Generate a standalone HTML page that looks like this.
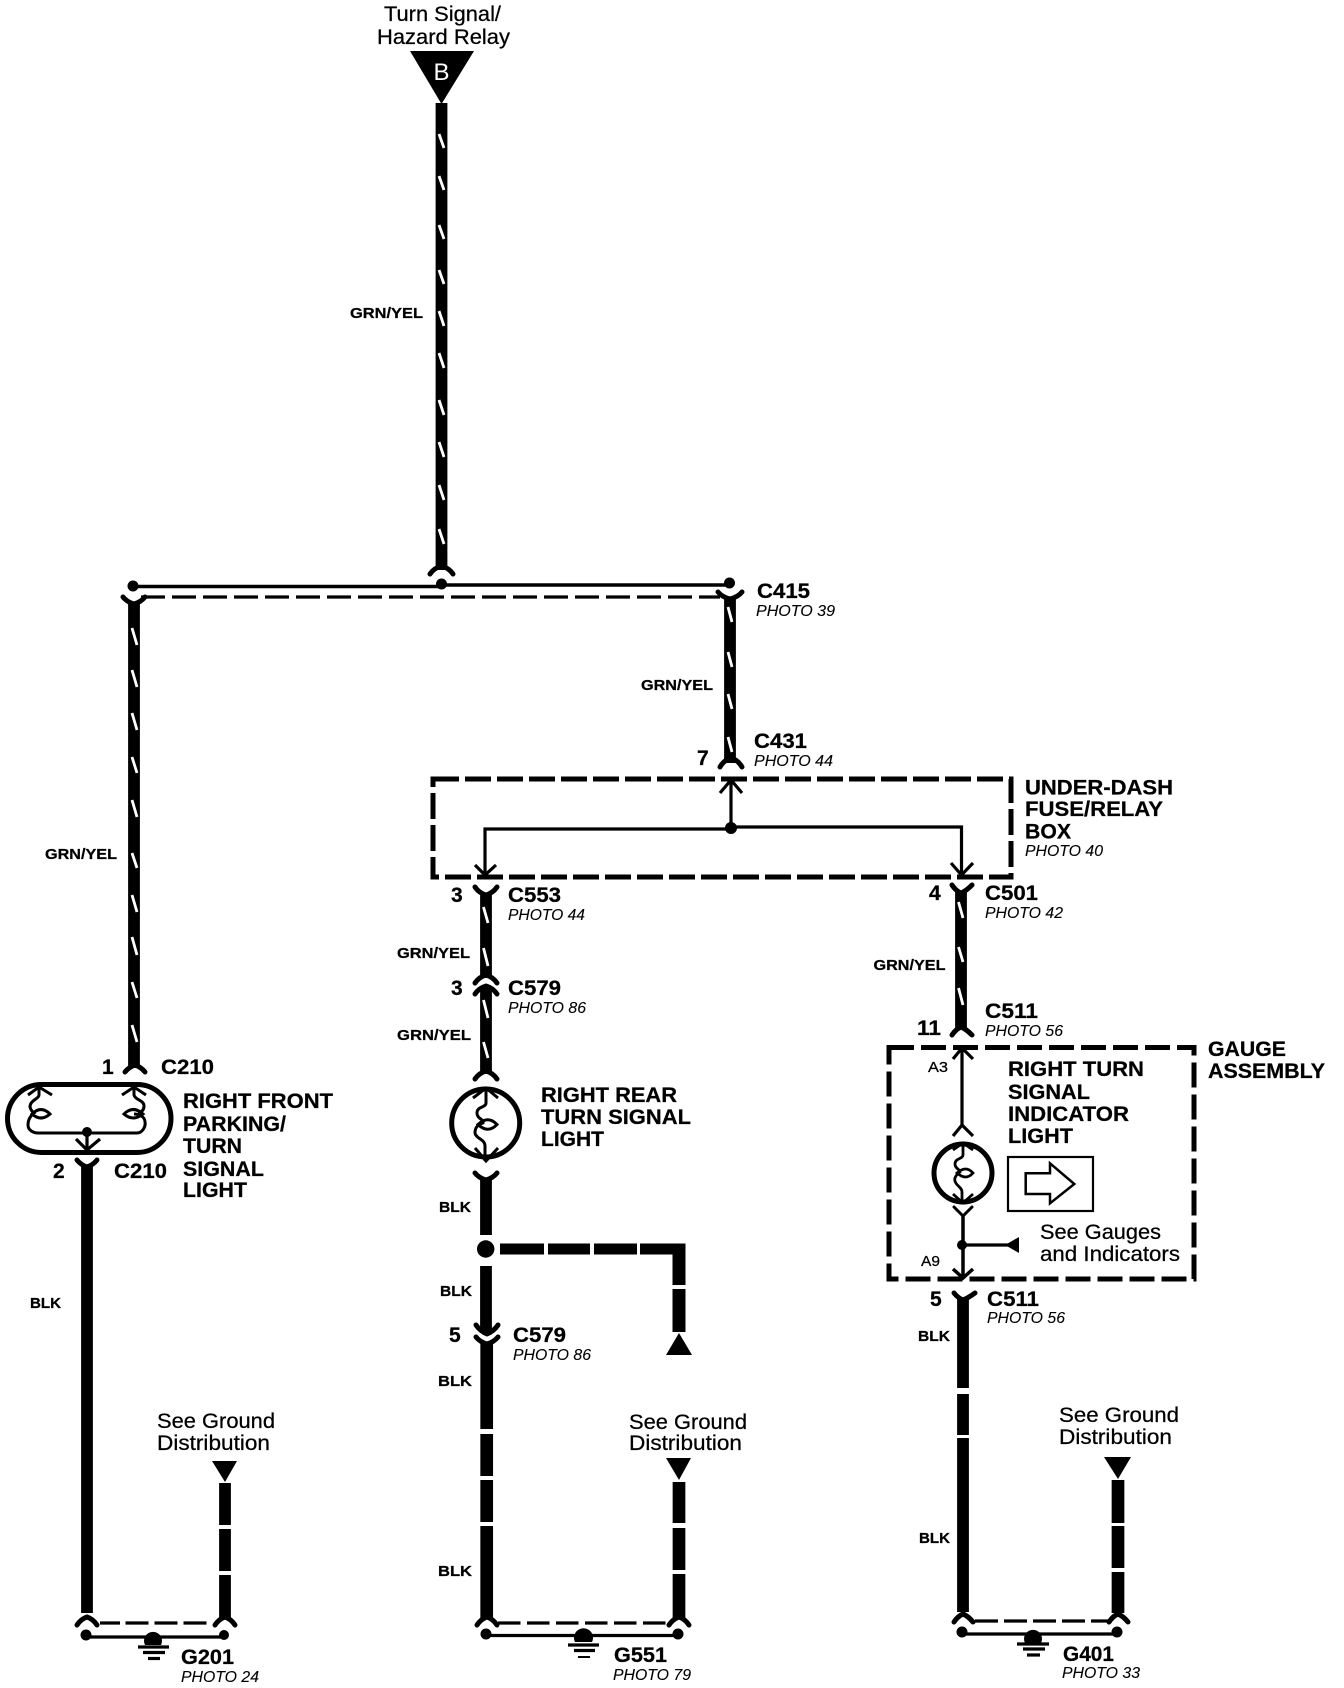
<!DOCTYPE html>
<html><head><meta charset="utf-8"><style>
html,body{margin:0;padding:0;background:#fff}
svg{display:block}
text{font-family:"Liberation Sans",sans-serif;fill:#000;stroke:#000;stroke-width:.25}
.b{font-weight:700;font-size:21px}
.i{font-style:italic;font-size:16px;stroke-width:.1}
.r{font-size:21px}
.s{font-weight:700;font-size:14.5px}
.w{stroke:#000;stroke-width:11.8;fill:none}
.f{stroke:#000;stroke-width:5;fill:none;stroke-linecap:round;stroke-linejoin:round}
.t{stroke:#000;stroke-width:3.2;fill:none;stroke-linecap:butt;stroke-linejoin:miter}
.y{stroke:#fff;stroke-width:2.8;fill:none}
</style></head><body>
<svg xmlns="http://www.w3.org/2000/svg" width="1344" height="1688" viewBox="0 0 1344 1688">
<rect width="1344" height="1688" fill="#fff"/>

<!-- Top source -->
<text x="384" y="21" class="r" textLength="117" lengthAdjust="spacingAndGlyphs">Turn Signal/</text>
<text x="377" y="44" class="r" textLength="133" lengthAdjust="spacingAndGlyphs">Hazard Relay</text>
<polygon points="410,51 474,51 441.5,104"/>
<text x="441.5" y="80" class="r" text-anchor="middle" style="fill:#fff;stroke:none;font-size:24px">B</text>
<path class="w" d="M441.5 103V570"/>
<path class="y" d="M439 134l5 14M439 176l5 14M439 225l5 14M439 270l5 14M439 311l5 15M439 353l5 15M439 400l5 15M439 442l5 15M439 485l5 15M439 529l5 15"/>
<path class="f" d="M430 574Q434 568 441.5 566Q449 568 453 574"/>
<path class="t" style="stroke-width:3.6" d="M133 586.5H441M441 585H729"/>
<circle cx="133" cy="586" r="5.5"/><circle cx="441.5" cy="584" r="5.5"/><circle cx="729.5" cy="583" r="5.5"/>
<path class="t" stroke-dasharray="24 7" d="M141 597H720"/>
<path class="f" d="M123 597Q127 602 134 604Q141 602 145 597"/>
<path class="f" d="M718 592Q722 597 730 599Q738 597 742 592"/>
<path class="w" d="M134 602V1068"/>
<path class="y" d="M132 628l5 17M132 670l5 17M132 713l5 17M132 757l5 16M132 800l5 17M132 853l5 15M132 895l5 17M132 937l5 18M132 982l5 16M132 1025l5 17"/>
<path class="w" d="M730 598V763"/>
<path class="y" d="M728 607l4 15M728 652l4 15M728 694l4 15M728 737l4 15"/>
<text x="757" y="598" class="b" textLength="53" lengthAdjust="spacingAndGlyphs">C415</text>
<text x="756" y="616" class="i" textLength="79" lengthAdjust="spacingAndGlyphs">PHOTO 39</text>
<text x="350" y="318" class="s" textLength="73" lengthAdjust="spacingAndGlyphs">GRN/YEL</text>
<text x="641" y="690" class="s" textLength="72" lengthAdjust="spacingAndGlyphs">GRN/YEL</text>
<text x="45" y="859" class="s" textLength="72" lengthAdjust="spacingAndGlyphs">GRN/YEL</text>

<!-- C431 + under-dash box -->
<path class="f" d="M720 767Q724 760 731 758Q738 760 742 767"/>
<text x="697" y="765" class="b">7</text>
<text x="754" y="748" class="b" textLength="53" lengthAdjust="spacingAndGlyphs">C431</text>
<text x="754" y="766" class="i" textLength="79" lengthAdjust="spacingAndGlyphs">PHOTO 44</text>
<rect x="433" y="779" width="578" height="98" fill="none" stroke="#000" stroke-width="5" stroke-dasharray="26 6"/>
<path class="t" d="M731 781V828M720 793L731 780L742 793"/>
<path class="t" d="M731 829H485V875M475 865L485 875L496 865"/>
<path class="t" d="M731 827H961.5V875M951 863L961.5 875L973 863"/>
<circle cx="731" cy="828" r="6"/>
<text x="1025" y="794.5" class="b" textLength="148" lengthAdjust="spacingAndGlyphs">UNDER-DASH</text>
<text x="1025" y="816" class="b" textLength="138" lengthAdjust="spacingAndGlyphs">FUSE/RELAY</text>
<text x="1025" y="838.5" class="b" textLength="46" lengthAdjust="spacingAndGlyphs">BOX</text>
<text x="1025" y="856" class="i" textLength="78" lengthAdjust="spacingAndGlyphs">PHOTO 40</text>

<!-- Middle column -->
<path class="f" d="M475 887Q479 893 486 895Q493 893 497 887"/>
<path class="w" d="M486 894V978"/>
<path class="y" d="M483.500 907l4.500 16M483.500 948l4.500 18"/>
<path class="f" d="M475 983Q479 977 486 975Q493 977 497 983"/>
<path class="f" d="M475 994Q479 988 486 986Q493 988 497 994"/>
<path class="w" d="M486 988V1074"/>
<path class="y" d="M483.500 1000l4.500 18M483.500 1042l4.500 16"/>
<path class="f" d="M475 1079Q479 1073 486 1071Q493 1073 497 1079"/>
<text x="451" y="902" class="b">3</text>
<text x="508" y="902" class="b" textLength="53" lengthAdjust="spacingAndGlyphs">C553</text>
<text x="508" y="920" class="i" textLength="77" lengthAdjust="spacingAndGlyphs">PHOTO 44</text>
<text x="451" y="995" class="b">3</text>
<text x="508" y="995" class="b" textLength="53" lengthAdjust="spacingAndGlyphs">C579</text>
<text x="508" y="1013" class="i" textLength="78" lengthAdjust="spacingAndGlyphs">PHOTO 86</text>
<text x="397" y="958" class="s" textLength="73" lengthAdjust="spacingAndGlyphs">GRN/YEL</text>
<text x="397" y="1040" class="s" textLength="74" lengthAdjust="spacingAndGlyphs">GRN/YEL</text>

<!-- Rear bulb -->
<circle cx="485.700" cy="1123" r="34" fill="none" stroke="#000" stroke-width="5"/>
<path class="t" style="stroke-width:3" d="M473 1098L486 1088L498 1098M486 1088V1103C486 1108 477 1106 477 1113C477 1119 484 1119 483 1123C477 1125 475 1128 475 1133C476 1139 485 1139 485 1146V1161M475 1148L486 1161L498 1148"/>
<path class="t" style="stroke-width:3" d="M478 1124.500Q488 1115 497 1124.500Q488 1134 478 1124.500Z"/>
<text x="541" y="1102" class="b" textLength="136" lengthAdjust="spacingAndGlyphs">RIGHT REAR</text>
<text x="541" y="1124" class="b" textLength="150" lengthAdjust="spacingAndGlyphs">TURN SIGNAL</text>
<text x="541" y="1146" class="b" textLength="63" lengthAdjust="spacingAndGlyphs">LIGHT</text>
<path class="f" d="M475 1173Q479 1178 486 1180Q493 1178 497 1173"/>
<path class="w" d="M486 1178V1235M486 1266V1333"/>
<circle cx="485.700" cy="1249" r="8.700"/>
<text x="439" y="1212" class="s" textLength="32" lengthAdjust="spacingAndGlyphs">BLK</text>
<text x="440" y="1296" class="s" textLength="32" lengthAdjust="spacingAndGlyphs">BLK</text>
<path class="f" d="M476 1325Q480 1331 487 1334Q494 1331 498 1325"/>
<path class="f" d="M476 1337Q480 1342 487 1344Q494 1342 498 1337"/>
<text x="449" y="1342" class="b">5</text>
<text x="513" y="1342" class="b" textLength="53" lengthAdjust="spacingAndGlyphs">C579</text>
<text x="513" y="1360" class="i" textLength="78" lengthAdjust="spacingAndGlyphs">PHOTO 86</text>
<rect x="500" y="1243.500" width="44" height="11"/><rect x="548" y="1243.500" width="42" height="11"/><rect x="594" y="1243.500" width="43" height="11"/>
<path d="M640 1243.500H685.500V1285H672.500V1254.500H640Z"/>
<rect x="672.500" y="1289" width="13" height="43"/>
<polygon points="679,1333 692,1355 666,1355"/>
<path class="w" style="stroke-width:12.700" d="M486.700 1342V1429M486.700 1434V1476M486.700 1480V1522M486.700 1526V1618"/>
<text x="438" y="1386" class="s" textLength="34" lengthAdjust="spacingAndGlyphs">BLK</text>
<text x="438" y="1576" class="s" textLength="34" lengthAdjust="spacingAndGlyphs">BLK</text>
<text x="629" y="1429" class="r" textLength="118" lengthAdjust="spacingAndGlyphs">See Ground</text>
<text x="629" y="1450" class="r" textLength="113" lengthAdjust="spacingAndGlyphs">Distribution</text>
<polygon points="666,1458 691,1458 679,1480"/>
<path class="w" style="stroke-width:12.700" d="M679 1482V1523M679 1528V1570M679 1574V1618"/>
<path class="f" d="M477 1625Q481 1619 487 1617Q493 1619 497 1625"/>
<path class="f" d="M669 1625Q673 1619 679 1617Q685 1619 689 1625"/>
<path class="t" stroke-dasharray="22.500 6.500" d="M498 1623H668"/>
<circle cx="486" cy="1634" r="5.500"/><circle cx="678" cy="1634" r="5.500"/>
<path class="t" d="M486 1635.500H678"/>
<path d="M575 1642A9.500 9.500 0 1 1 592 1642Z"/>
<path class="t" d="M568 1645H599M574 1650.500H595"/><path class="t" style="stroke-width:2" d="M578 1657H590"/>
<text x="614" y="1662" class="b" textLength="53" lengthAdjust="spacingAndGlyphs">G551</text>
<text x="613" y="1680" class="i" textLength="78" lengthAdjust="spacingAndGlyphs">PHOTO 79</text>

<!-- Left lamp -->
<path class="f" d="M125 1072Q129 1067 135 1065Q141 1067 145 1072"/>
<text x="102" y="1074" class="b">1</text>
<text x="161" y="1074" class="b" textLength="53" lengthAdjust="spacingAndGlyphs">C210</text>
<rect x="7.500" y="1084.500" width="163.500" height="68" rx="34" ry="34" fill="none" stroke="#000" stroke-width="5"/>
<path class="t" style="stroke-width:3" d="M28 1095L39 1087L52 1095M39 1087V1095C39 1099 30 1100 30 1107C31 1111 33 1112 34 1113C29 1117 28 1122 28 1125C28 1130 33 1133 38 1133H137C142 1133 146 1127 145 1122C145 1116 138 1114 134 1114M146 1095L134 1087L122 1095M134 1087V1095C135 1100 144 1100 144 1106C144 1110 142 1112 138 1113"/>
<path class="t" style="stroke-width:3" d="M32 1114Q41 1105 50 1114Q41 1122 32 1114ZM124 1114Q133 1105 143 1114Q133 1122 124 1114Z"/>
<circle cx="87" cy="1132" r="5"/>
<path class="t" d="M87 1132V1150M76 1139L87 1150L100 1139"/>
<path class="f" d="M77 1160Q81 1165 87 1167Q93 1165 97 1160"/>
<path class="w" d="M87 1165V1613"/>
<text x="53" y="1178" class="b">2</text>
<text x="114" y="1178" class="b" textLength="53" lengthAdjust="spacingAndGlyphs">C210</text>
<text x="183" y="1108" class="b" textLength="150" lengthAdjust="spacingAndGlyphs">RIGHT FRONT</text>
<text x="183" y="1131" class="b" textLength="103" lengthAdjust="spacingAndGlyphs">PARKING/</text>
<text x="183" y="1153" class="b" textLength="59" lengthAdjust="spacingAndGlyphs">TURN</text>
<text x="183" y="1176" class="b" textLength="81" lengthAdjust="spacingAndGlyphs">SIGNAL</text>
<text x="183" y="1197" class="b" textLength="64" lengthAdjust="spacingAndGlyphs">LIGHT</text>
<text x="30" y="1308" class="s" textLength="31" lengthAdjust="spacingAndGlyphs">BLK</text>
<text x="157" y="1428" class="r" textLength="118" lengthAdjust="spacingAndGlyphs">See Ground</text>
<text x="157" y="1450" class="r" textLength="113" lengthAdjust="spacingAndGlyphs">Distribution</text>
<polygon points="212,1461 237,1461 225,1482"/>
<path class="w" d="M225 1483V1525M225 1529V1571M225 1575V1618"/>
<path class="f" d="M77 1625Q81 1619 87 1617Q93 1619 97 1625"/>
<path class="f" d="M215 1625Q219 1619 225 1617Q231 1619 235 1625"/>
<path class="t" stroke-dasharray="20 5.500 23 6 23 6 23 6" d="M100 1623H207"/>
<circle cx="86" cy="1635" r="5.500"/><circle cx="224" cy="1635" r="5"/>
<path class="t" d="M86 1637H224"/>
<path d="M145 1645A9 9 0 1 1 161 1645Z"/>
<path class="t" d="M138 1647H169M143 1652.500H165"/><path class="t" d="M148 1658.500H160"/>
<text x="181" y="1664" class="b" textLength="53" lengthAdjust="spacingAndGlyphs">G201</text>
<text x="181" y="1682" class="i" textLength="78" lengthAdjust="spacingAndGlyphs">PHOTO 24</text>

<!-- Right column -->
<path class="f" d="M952 885Q956 891 961 893Q966 891 972 885"/>
<path class="w" d="M961 892V1028"/>
<path class="y" d="M958.500 902l4.500 16M958.500 947l4.500 15M958.500 988l4.500 17"/>
<path class="f" d="M952 1035Q956 1029 961 1027Q966 1029 972 1035"/>
<text x="929" y="900" class="b">4</text>
<text x="985" y="900" class="b" textLength="53" lengthAdjust="spacingAndGlyphs">C501</text>
<text x="985" y="918" class="i" textLength="78" lengthAdjust="spacingAndGlyphs">PHOTO 42</text>
<text x="917" y="1035" class="b" textLength="24" lengthAdjust="spacingAndGlyphs">11</text>
<text x="985" y="1018" class="b" textLength="53" lengthAdjust="spacingAndGlyphs">C511</text>
<text x="985" y="1036" class="i" textLength="78" lengthAdjust="spacingAndGlyphs">PHOTO 56</text>
<text x="873.500" y="970" class="s" textLength="72" lengthAdjust="spacingAndGlyphs">GRN/YEL</text>

<!-- Gauge box -->
<rect x="889" y="1047.500" width="305" height="231.500" fill="none" stroke="#000" stroke-width="5" stroke-dasharray="25 7"/>
<path class="t" d="M962 1049V1125M953 1059L962 1048L973 1059M953 1136L962 1125L973 1136"/>
<text x="928" y="1072" style="font-size:14.500px" textLength="20" lengthAdjust="spacingAndGlyphs">A3</text>
<text x="921" y="1266" style="font-size:14.500px" textLength="19" lengthAdjust="spacingAndGlyphs">A9</text>
<circle cx="963" cy="1173" r="29" fill="none" stroke="#000" stroke-width="5"/>
<path class="t" style="stroke-width:2.800" d="M953 1150L963 1143L973 1150M963 1143V1155C963 1159 955 1158 955 1164C955 1169 960 1169 960 1172C956 1175 954 1178 955 1181C956 1186 962 1187 962 1192V1203M953 1194L963 1203L973 1194"/>
<path class="t" style="stroke-width:2.800" d="M957 1173Q966 1165 973 1173Q966 1181 957 1173Z"/>
<path class="f" style="stroke-width:3" d="M954 1207L963 1216L972 1207"/>
<path class="t" style="stroke-width:3.500" d="M963 1215V1278M953 1269L963 1278L973 1269"/>
<circle cx="962" cy="1245" r="5"/>
<path class="t" d="M962 1245H1010"/>
<polygon points="1005,1245 1019,1237 1019,1253"/>
<rect x="1008" y="1157" width="85" height="54" fill="none" stroke="#000" stroke-width="2.200"/>
<polygon points="1025.700,1173.300 1050,1173.300 1050,1163.300 1074.300,1184 1050,1203.300 1050,1194 1025.700,1194" fill="none" stroke="#000" stroke-width="2.500"/>
<text x="1008" y="1076" class="b" textLength="136" lengthAdjust="spacingAndGlyphs">RIGHT TURN</text>
<text x="1008" y="1099" class="b" textLength="82" lengthAdjust="spacingAndGlyphs">SIGNAL</text>
<text x="1008" y="1121" class="b" textLength="121" lengthAdjust="spacingAndGlyphs">INDICATOR</text>
<text x="1008" y="1143" class="b" textLength="65" lengthAdjust="spacingAndGlyphs">LIGHT</text>
<text x="1208" y="1056" class="b" textLength="78" lengthAdjust="spacingAndGlyphs">GAUGE</text>
<text x="1208" y="1078" class="b" textLength="117" lengthAdjust="spacingAndGlyphs">ASSEMBLY</text>
<text x="1040" y="1239" class="r" textLength="121" lengthAdjust="spacingAndGlyphs">See Gauges</text>
<text x="1040" y="1261" class="r" textLength="140" lengthAdjust="spacingAndGlyphs">and Indicators</text>
<path class="f" d="M954 1293Q958 1298 963 1300Q968 1298 975 1293"/>
<path class="w" d="M963 1298V1388M963 1394V1435M963 1438V1612"/>
<text x="930" y="1306" class="b">5</text>
<text x="987" y="1306" class="b" textLength="52" lengthAdjust="spacingAndGlyphs">C511</text>
<text x="987" y="1323" class="i" textLength="78" lengthAdjust="spacingAndGlyphs">PHOTO 56</text>
<text x="918" y="1341" class="s" textLength="32" lengthAdjust="spacingAndGlyphs">BLK</text>
<text x="919" y="1543" class="s" textLength="31" lengthAdjust="spacingAndGlyphs">BLK</text>
<text x="1059" y="1422" class="r" textLength="120" lengthAdjust="spacingAndGlyphs">See Ground</text>
<text x="1059" y="1444" class="r" textLength="113" lengthAdjust="spacingAndGlyphs">Distribution</text>
<polygon points="1104,1457 1131,1457 1118,1479"/>
<path class="w" style="stroke-width:12.700" d="M1118 1480V1523M1118 1526V1568M1118 1572V1613"/>
<path class="f" d="M954 1622Q958 1616 963 1614Q968 1616 973 1622"/>
<path class="f" d="M1109 1622Q1113 1616 1118 1614Q1123 1616 1128 1622"/>
<path class="t" stroke-dasharray="23 6" d="M975 1621H1112"/>
<circle cx="962" cy="1632" r="5.500"/><circle cx="1117" cy="1632" r="5.500"/>
<path class="t" d="M962 1634H1117"/>
<path d="M1025 1643A9 9 0 1 1 1041 1643Z"/>
<path class="t" d="M1017 1644H1049M1023 1649H1045"/><path class="t" d="M1027 1655H1040"/>
<text x="1063" y="1661" class="b" textLength="51" lengthAdjust="spacingAndGlyphs">G401</text>
<text x="1062" y="1678" class="i" textLength="78" lengthAdjust="spacingAndGlyphs">PHOTO 33</text>
</svg>
</body></html>
